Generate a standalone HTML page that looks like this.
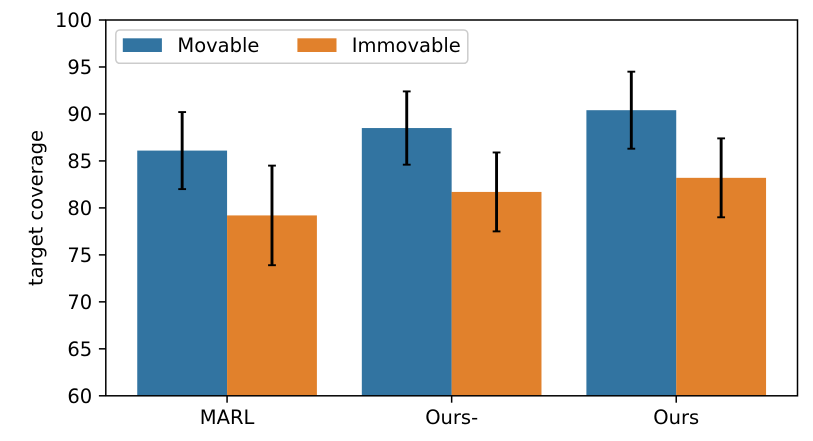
<!DOCTYPE html>
<html lang="en">
<head>
<meta charset="utf-8">
<title>Target coverage bar chart</title>
<style>
html,body{margin:0;padding:0;background:#fff;width:813px;height:441px;overflow:hidden}
svg{display:block}
text{font-family:"DejaVu Sans","Liberation Sans",sans-serif;font-size:19.5px;fill:#000}
</style>
</head>
<body>
<svg id="chart" xmlns="http://www.w3.org/2000/svg" width="813" height="441" viewBox="0 0 813 441"></svg>
<script>
const categories = ['MARL', 'Ours-', 'Ours'];
const seriesNames = ['Movable', 'Immovable'];
const movableValues = [86.1, 88.5, 90.4];
const immovableValues = [79.2, 81.7, 83.2];
const movableLow = [82.0, 84.6, 86.3];
const movableHigh = [90.2, 92.4, 94.5];
const immovableLow = [73.9, 77.5, 79.0];
const immovableHigh = [84.5, 85.9, 87.4];
const yTicks = [60, 65, 70, 75, 80, 85, 90, 95, 100];

const svg = document.getElementById('chart');
const NS = 'http://www.w3.org/2000/svg';
const plot = { left: 105.8, right: 797.5, top: 20, bottom: 395.8 };
const xMin = -0.54, xMax = 2.54, yMin = 60, yMax = 100;
const barWidth = 0.4;
const colors = ['#3274a1', '#e1812c'];

function xScale(v) { return plot.left + (v - xMin) / (xMax - xMin) * (plot.right - plot.left); }
function yScale(v) { return plot.bottom - (v - yMin) / (yMax - yMin) * (plot.bottom - plot.top); }
function make(tag, attrs, parent) {
  const el = document.createElementNS(NS, tag);
  for (const k in attrs) el.setAttribute(k, attrs[k]);
  (parent || svg).appendChild(el);
  return el;
}

const seriesValues = [movableValues, immovableValues];
const seriesLow = [movableLow, immovableLow];
const seriesHigh = [movableHigh, immovableHigh];

// Bars
seriesValues.forEach((vals, s) => {
  vals.forEach((v, i) => {
    const x0 = xScale(i - barWidth + s * barWidth);
    const x1 = xScale(i + s * barWidth);
    const bar = make('rect', { x: x0, y: yScale(v), width: x1 - x0, height: yScale(yMin) - yScale(v), fill: colors[s] });
    
    
  });
});

// Error bars
seriesValues.forEach((vals, s) => {
  vals.forEach((v, i) => {
    const cx = xScale(i - barWidth / 2 + s * barWidth);
    const g = make('g', { stroke: '#000', fill: 'none' });
    
    
    const hi = yScale(seriesHigh[s][i]);
    const lo = yScale(seriesLow[s][i]);
    make('line', { x1: cx, x2: cx, y1: hi, y2: lo, 'stroke-width': 2.9 }, g);
    make('line', { x1: cx - 3.9, x2: cx + 3.9, y1: hi, y2: hi, 'stroke-width': 1.9 }, g);
    make('line', { x1: cx - 3.9, x2: cx + 3.9, y1: lo, y2: lo, 'stroke-width': 1.9 }, g);
  });
});

// Y ticks
yTicks.forEach(t => {
  const y = yScale(t);
  const tick = make('line', { x1: plot.left - 6.9, x2: plot.left, y1: y, y2: y, stroke: '#000', 'stroke-width': 1.5 });
  
  
  const label = make('text', { x: plot.left - 13.6, y: y + 7, 'text-anchor': 'end' });
  label.textContent = t;
  
  
});

// X ticks
categories.forEach((c, i) => {
  const x = xScale(i);
  const tick = make('line', { x1: x, x2: x, y1: plot.bottom, y2: plot.bottom + 6.9, stroke: '#000', 'stroke-width': 1.5 });
  
  
  const label = make('text', { x: x, y: plot.bottom + 28.2, 'text-anchor': 'middle' });
  label.textContent = c;
  
  
});

// Axes frame
const frame = make('rect', { x: plot.left, y: plot.top, width: plot.right - plot.left, height: plot.bottom - plot.top, fill: 'none', stroke: '#000', 'stroke-width': 1.5 });



// Y axis title
const yTitle = make('text', { transform: 'translate(42.3 208) rotate(-90)', 'text-anchor': 'middle' });
yTitle.textContent = 'target coverage';



// Legend
const legend = make('g', {});


const legendBox = make('rect', { x: 115.8, y: 30, width: 352, height: 33.3, rx: 3.9, fill: '#fff', 'fill-opacity': 0.8, stroke: '#ccc', 'stroke-width': 1.5 }, legend);


const legendPatchX = [122.8, 297.4];
const legendTextX = [177.4, 351.8];
seriesNames.forEach((n, s) => {
  const entry = make('g', {}, legend);
  
  
  make('rect', { x: legendPatchX[s], y: 38.3, width: 39.1, height: 13.7, fill: colors[s] }, entry);
  const label = make('text', { x: legendTextX[s], y: 52 }, entry);
  label.textContent = n;
});
</script>
</body>
</html>
